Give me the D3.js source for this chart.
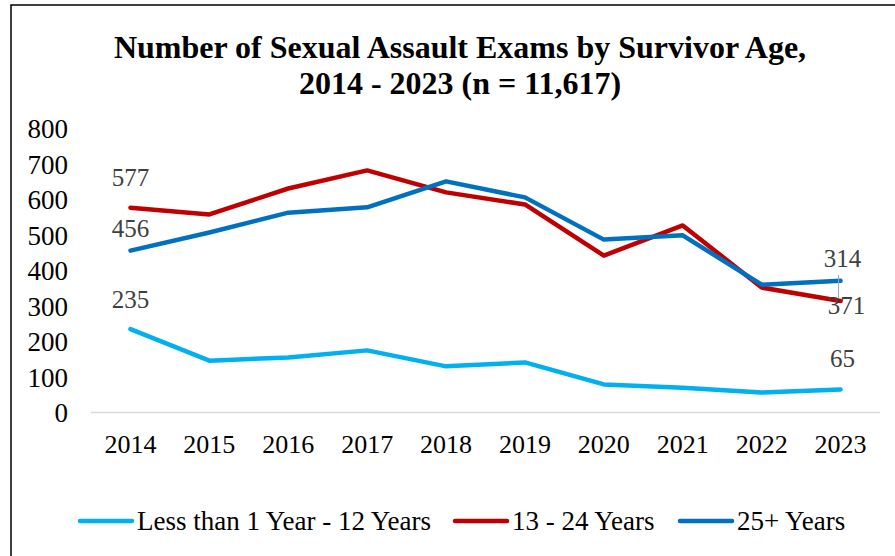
<!DOCTYPE html>
<html><head><meta charset="utf-8">
<script src="https://cdn.jsdelivr.net/npm/d3@7/dist/d3.min.js"></script>
<style>body{margin:0;background:#fff}svg{display:block}</style>
</head><body>
<svg id="c" width="895" height="556"></svg>
<script>
const years = [2014,2015,2016,2017,2018,2019,2020,2021,2022,2023];
const child = [235,146,155,175,130,141,79,70,56,65];
const youth = [577,558,631,682,620,586,442,527,352,314];
const adult = [456,507,563,578,651,606,487,499,360,371];
const seriesNames = ["Less than 1 Year - 12 Years","13 - 24 Years","25+ Years"];
const seriesColors = ["#00B0F0","#C00000","#0070C0"];
const yTicks = [0,100,200,300,400,500,600,700,800];
const titleLines = ["Number of Sexual Assault Exams by Survivor Age,","2014 - 2023 (n = 11,617)"];

const svg = d3.select("#c");
const font = "'Liberation Serif','Times New Roman',serif";

// frame
svg.append("path").attr("d","M11,560 L11,5 L900,5").attr("fill","none").attr("stroke","#000").attr("stroke-width",1.5);

// title
svg.append("g").selectAll("text").data(titleLines).join("text")
  .attr("x",460).attr("y",(d,i)=>47+i*36).attr("dy","0.35em")
  .attr("text-anchor","middle").attr("font-family",font).attr("font-weight","bold")
  .attr("font-size",32).attr("fill","#000").text(d=>d);

const x = d3.scaleBand().domain(years).range([91,880]);
const y = d3.scaleLinear().domain([0,800]).range([412.5,128.5]);
const cx = d=>x(d)+x.bandwidth()/2;

// y axis labels
const ya = svg.append("g").attr("transform","translate(68,0)")
  .call(d3.axisLeft(y).tickValues(yTicks).tickSize(0).tickPadding(0));
ya.select(".domain").remove();
ya.selectAll("text").attr("font-family",font).attr("font-size",27).attr("fill","#000").attr("dy","0.35em");

// baseline
svg.append("line").attr("x1",91).attr("x2",880).attr("y1",y(0)).attr("y2",y(0))
  .attr("stroke","#d9d9d9").attr("stroke-width",1.5);

// x axis labels
const xa = svg.append("g").attr("transform","translate(0,"+(y(0))+")")
  .call(d3.axisBottom(x).tickSize(0).tickPadding(31.5));
xa.select(".domain").remove();
xa.selectAll("text").attr("font-family",font).attr("font-size",26).attr("fill","#000").attr("dy","0");
xa.selectAll("text").attr("dominant-baseline","central");

// lines
const data = [child,youth,adult];
const line = d3.line().x((d,i)=>cx(years[i])).y(d=>y(d));
svg.append("g").selectAll("path").data(data).join("path")
  .attr("d",d=>line(d)).attr("fill","none")
  .attr("stroke",(d,i)=>seriesColors[i]).attr("stroke-width",4.5)
  .attr("stroke-linejoin","round").attr("stroke-linecap","round");

// data labels
const n = years.length-1;
const labels = [
  {t:child[0], x:cx(years[0]), y:y(child[0])-30},
  {t:youth[0], x:cx(years[0]), y:y(youth[0])-30},
  {t:adult[0], x:cx(years[0]), y:y(adult[0])-22},
  {t:child[n], x:cx(years[n])+2, y:y(child[n])-31},
  {t:youth[n], x:cx(years[n])+2, y:y(adult[n])-23},
  {t:adult[n], x:cx(years[n])+6, y:y(youth[n])+4}
];
svg.append("line").attr("x1",cx(years[n])-2).attr("x2",cx(years[n])-2)
  .attr("y1",y(adult[n])-6).attr("y2",y(youth[n])-3).attr("stroke","#a6a6a6").attr("stroke-width",1);
svg.append("g").selectAll("text").data(labels).join("text")
  .attr("x",d=>d.x).attr("y",d=>d.y).attr("dy","0.35em").attr("text-anchor","middle")
  .attr("font-family",font).attr("font-size",25).attr("fill","#404040").text(d=>d.t);

// legend
const legX = [80,455,680];
const lg = svg.append("g").selectAll("g").data(seriesNames).join("g")
  .attr("transform",(d,i)=>"translate("+legX[i]+",521)");
lg.append("line").attr("x1",0).attr("x2",52).attr("stroke",(d,i)=>seriesColors[i])
  .attr("stroke-width",4.5).attr("stroke-linecap","round");
lg.append("text").attr("x",57).attr("dy","0.35em").attr("font-family",font).attr("font-size",27)
  .attr("fill","#000").text(d=>d);
</script>
</body></html>
